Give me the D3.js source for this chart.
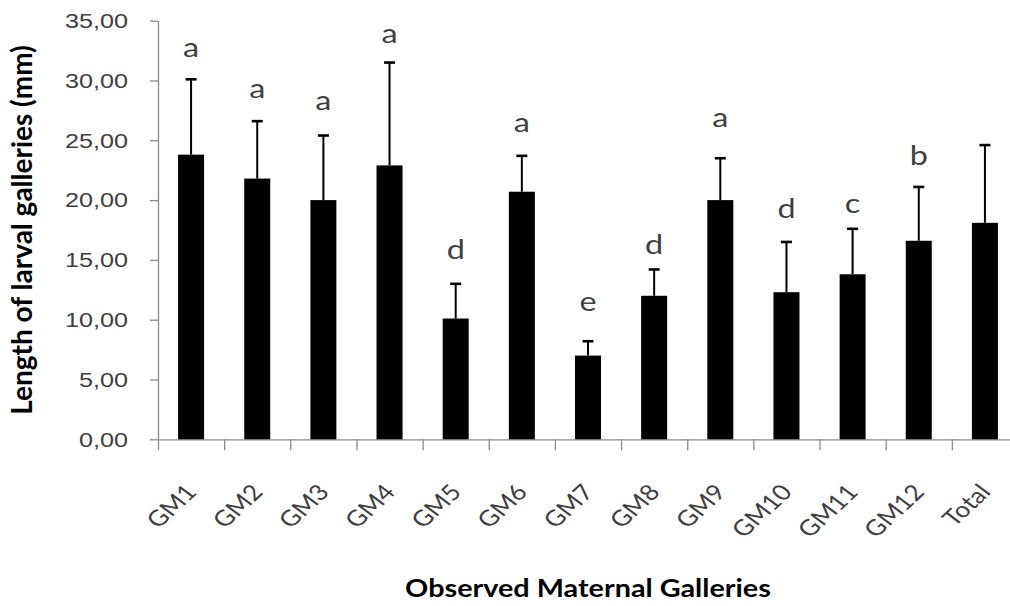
<!DOCTYPE html>
<html>
<head>
    <meta charset="utf-8">
    <title>Length of larval galleries</title>
    <script src="https://d3js.org/d3.v7.min.js"></script>
    <style>
        body { margin: 0; background: #fff; }
        svg { display: block; font-family: Lato, "Open Sans", sans-serif; }
        .axis path, .axis line { stroke: #8c8c8c; stroke-width: 1.3px; }
        .axis text { fill: #404040; font-size: 21px; }
    </style>
</head>
<body>
    <div id="chart"></div>
    <script>
        const categories = ["GM1", "GM2", "GM3", "GM4", "GM5", "GM6", "GM7", "GM8", "GM9", "GM10", "GM11", "GM12", "Total"];
        const means = [23.8, 21.8, 20.0, 22.9, 10.1, 20.7, 7.0, 12.0, 20.0, 12.3, 13.8, 16.6, 18.1];
        const sds = [6.3, 4.8, 5.4, 8.6, 2.9, 3.0, 1.2, 2.2, 3.5, 4.2, 3.8, 4.5, 6.5];
        const letters = ["a", "a", "a", "a", "d", "a", "e", "d", "a", "d", "c", "b", ""];
        const letterPos = [32.0, 28.5, 27.5, 33.1, 15.1, 25.7, 10.7, 15.5, 26.1, 18.5, 18.9, 22.9, 0];
        const yTicks = [0, 5, 10, 15, 20, 25, 30, 35];

        const W = 1010, H = 606;
        const SX = 1.2; // picture is stretched horizontally

        const svg = d3.select("#chart").append("svg")
            .attr("width", W)
            .attr("height", H);

        const x = d3.scaleBand()
            .domain(categories)
            .range([158, 1018])
            .paddingInner(0.607)
            .paddingOuter(0.3035);

        const xEdge = d3.scaleLinear()
            .domain([0, categories.length])
            .range([158, 1018]);

        const y = d3.scaleLinear()
            .domain([0, 35])
            .range([439.3, 20.7]);

        // y axis
        const yAxis = svg.append("g")
            .attr("class", "axis")
            .attr("transform", "translate(158,0)")
            .call(d3.axisLeft(y)
                .tickValues(yTicks)
                .tickSizeInner(8)
                .tickSizeOuter(0)
                .tickPadding(22)
                .tickFormat(d => d3.format(".2f")(d).replace(".", ",")));
        yAxis.selectAll("text")
            .attr("x", -30 / SX)
            .attr("transform", `scale(${SX},1)`);

        // x axis: ticks between categories
        svg.append("g")
            .attr("class", "axis")
            .attr("transform", "translate(0,439.3)")
            .call(d3.axisBottom(xEdge)
                .tickValues(d3.range(0, categories.length + 1))
                .tickSizeInner(11)
                .tickSizeOuter(0)
                .tickFormat(""));

        // category labels
        svg.append("g")
            .selectAll("text")
            .data(categories)
            .join("text")
            .attr("transform", d => `translate(${x(d) + x.bandwidth() / 2 + 7},493) scale(${SX},1) rotate(-48)`)
            .attr("text-anchor", "end")
            .attr("fill", "#404040")
            .style("font-size", "22px")
            .text(d => d);

        const cx = i => x(categories[i]) + x.bandwidth() / 2;

        // error bars
        const err = svg.append("g").attr("stroke", "#000").attr("stroke-width", 2);
        means.forEach((m, i) => {
            err.append("line")
                .attr("x1", cx(i)).attr("x2", cx(i))
                .attr("y1", y(m)).attr("y2", y(m + sds[i]));
            err.append("line")
                .attr("x1", cx(i) - 5.5).attr("x2", cx(i) + 5.5)
                .attr("y1", y(m + sds[i])).attr("y2", y(m + sds[i]))
                .attr("stroke-width", 2.6);
        });

        // bars
        svg.append("g")
            .selectAll("rect")
            .data(means)
            .join("rect")
            .attr("x", (d, i) => x(categories[i]))
            .attr("y", d => y(d))
            .attr("width", x.bandwidth())
            .attr("height", d => y(0) - y(d))
            .attr("fill", "#000");

        // significance letters
        svg.append("g")
            .selectAll("text")
            .data(letters)
            .join("text")
            .attr("transform", (d, i) => `translate(${cx(i)},${y(letterPos[i])}) scale(${SX},1)`)
            .attr("text-anchor", "middle")
            .attr("fill", "#404040")
            .style("font-size", "27px")
            .text(d => d);

        // axis titles
        svg.append("text")
            .attr("transform", `translate(588,597) scale(${SX},1)`)
            .attr("text-anchor", "middle")
            .attr("fill", "#000")
            .style("font-size", "24px")
            .style("font-weight", "bold")
            .text("Observed Maternal Galleries");

        svg.append("text")
            .attr("transform", "translate(32,230) rotate(-90)")
            .attr("text-anchor", "middle")
            .attr("fill", "#000")
            .style("font-size", "28px")
            .style("font-weight", "bold")
            .text("Length of larval galleries  (mm)");
    </script>
</body>
</html>
